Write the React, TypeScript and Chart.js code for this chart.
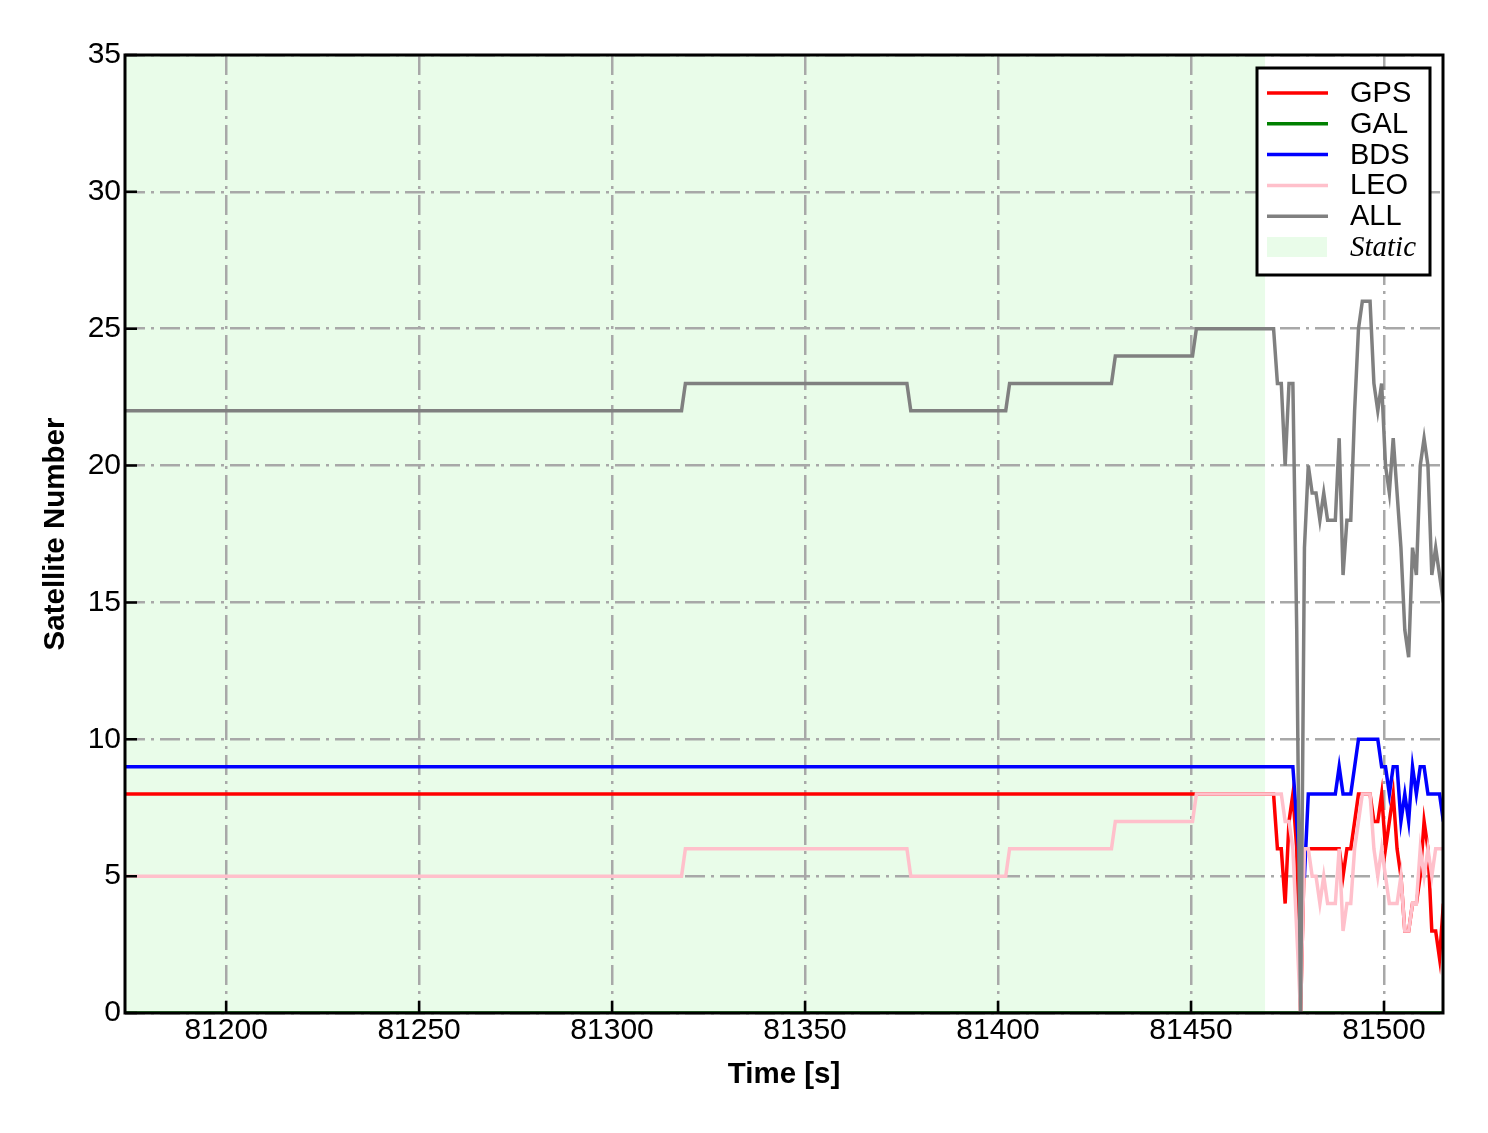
import { useEffect, useRef } from "react";
import { Chart, registerables } from "chart.js";

Chart.register(...registerables);

// ---------- data ----------
const seriesNames = ["GPS", "GAL", "BDS", "LEO", "ALL"];
const seriesColors = ["#ff0000", "#008000", "#0000ff", "#ffc0cb", "#808080"];
const staticLabel = "Static";
const staticColor = "rgb(233,252,233)";

const xTicks = [81200, 81250, 81300, 81350, 81400, 81450, 81500];
const yTicks = [0, 5, 10, 15, 20, 25, 30, 35];
const xMin = 81173.8;
const xMax = 81515.3;
const yMin = 0;
const yMax = 35;
const staticStart = 81173.8;
const staticEnd = 81469.2;

// flat (static) part: change points
const stepTimes = [81173.8, 81318.0, 81319.0, 81376.4, 81377.4, 81402.0, 81403.0, 81429.4, 81430.4, 81450.4, 81451.4];
const gpsSteps = [8, 8, 8, 8, 8, 8, 8, 8, 8, 8, 8];
const bdsSteps = [9, 9, 9, 9, 9, 9, 9, 9, 9, 9, 9];
const leoSteps = [5, 5, 6, 6, 5, 5, 6, 6, 7, 7, 8];
const allSteps = [22, 22, 23, 23, 22, 22, 23, 23, 24, 24, 25];

// kinematic part: one sample per second
const noisyTimes = [
  81471.4, 81472.4, 81473.4, 81474.4, 81475.4, 81476.4, 81477.4, 81478.4, 81479.4, 81480.4,
  81481.4, 81482.4, 81483.4, 81484.4, 81485.4, 81486.4, 81487.4, 81488.4, 81489.4, 81490.4,
  81491.4, 81492.4, 81493.4, 81494.4, 81495.4, 81496.4, 81497.4, 81498.4, 81499.4, 81500.4,
  81501.4, 81502.4, 81503.4, 81504.4, 81505.4, 81506.4, 81507.4, 81508.4, 81509.4, 81510.4,
  81511.4, 81512.4, 81513.4, 81514.4, 81515.4,
];
const gpsNoisy = [
  8, 6, 6, 4, 7, 8, 6, 0, 6, 6,
  6, 6, 6, 6, 6, 6, 6, 6, 5, 6,
  6, 7, 8, 8, 8, 8, 7, 7, 8, 6,
  7, 8, 6, 5, 3, 3, 4, 4, 5, 7,
  6, 3, 3, 2, 4,
];
const bdsNoisy = [
  9, 9, 9, 9, 9, 9, 7, 5, 5, 8,
  8, 8, 8, 8, 8, 8, 8, 9, 8, 8,
  8, 9, 10, 10, 10, 10, 10, 10, 9, 9,
  8, 9, 9, 7, 8, 7, 9, 8, 9, 9,
  8, 8, 8, 8, 7,
];
const leoNoisy = [
  8, 8, 8, 7, 7, 6, 3, 0, 6, 6,
  5, 5, 4, 5, 4, 4, 4, 6, 3, 4,
  4, 6, 7, 8, 8, 8, 6, 5, 6, 5,
  4, 4, 4, 5, 3, 3, 4, 4, 6, 5,
  6, 5, 6, 6, 6,
];
const allNoisy = [
  25, 23, 23, 20, 23, 23, 14, 0, 17, 20,
  19, 19, 18, 19, 18, 18, 18, 21, 16, 18,
  18, 22, 25, 26, 26, 26, 23, 22, 23, 20,
  19, 21, 19, 17, 14, 13, 17, 16, 20, 21,
  20, 16, 17, 16, 15,
];
const galTimes = [81173.8, 81515.4];
const galValues = [0, 0];

// ---------- helpers ----------
const FONT = "'Liberation Sans', Arial, sans-serif";

function toPoints(times: number[], values: number[]) {
  return times.map((t, i) => ({ x: t, y: values[i] }));
}

const seriesData = [
  toPoints(stepTimes.concat(noisyTimes), gpsSteps.concat(gpsNoisy)),
  toPoints(galTimes, galValues),
  toPoints(stepTimes.concat(noisyTimes), bdsSteps.concat(bdsNoisy)),
  toPoints(stepTimes.concat(noisyTimes), leoSteps.concat(leoNoisy)),
  toPoints(stepTimes.concat(noisyTimes), allSteps.concat(allNoisy)),
];

const decorPlugin = {
  id: "decor",
  beforeDraw(chart: any) {
    const { ctx, chartArea, scales } = chart;
    const x0 = scales.x.getPixelForValue(staticStart);
    const x1 = scales.x.getPixelForValue(staticEnd);
    ctx.save();
    ctx.fillStyle = staticColor;
    ctx.fillRect(x0, chartArea.top, x1 - x0, chartArea.bottom - chartArea.top);
    ctx.restore();
  },
  afterDraw(chart: any) {
    const { ctx, chartArea, scales } = chart;
    const { left, right, top, bottom } = chartArea;
    ctx.save();
    // inward ticks
    ctx.strokeStyle = "#000";
    ctx.lineWidth = 2.5;
    ctx.beginPath();
    for (const v of xTicks) {
      const px = scales.x.getPixelForValue(v);
      ctx.moveTo(px, bottom);
      ctx.lineTo(px, bottom - 12);
    }
    for (const v of yTicks) {
      const py = scales.y.getPixelForValue(v);
      ctx.moveTo(left, py);
      ctx.lineTo(left + 12, py);
    }
    ctx.stroke();
    // frame
    ctx.lineWidth = 3;
    ctx.strokeRect(left, top, right - left, bottom - top);

    // legend
    const bw = 173;
    const bh = 207;
    const bx = right - 13 - bw;
    const by = top + 13;
    ctx.fillStyle = "#fff";
    ctx.fillRect(bx, by, bw, bh);
    ctx.lineWidth = 3;
    ctx.strokeStyle = "#000";
    ctx.strokeRect(bx, by, bw, bh);
    const rowH = 30.8;
    ctx.textBaseline = "middle";
    ctx.textAlign = "left";
    for (let i = 0; i < seriesNames.length; i++) {
      const cy = by + 25 + i * rowH;
      ctx.strokeStyle = seriesColors[i];
      ctx.lineWidth = 3.5;
      ctx.beginPath();
      ctx.moveTo(bx + 10, cy);
      ctx.lineTo(bx + 71, cy);
      ctx.stroke();
      ctx.fillStyle = "#000";
      ctx.font = `29px ${FONT}`;
      ctx.fillText(seriesNames[i], bx + 93, cy + 1);
    }
    const sy = by + 25 + seriesNames.length * rowH;
    ctx.fillStyle = staticColor;
    ctx.fillRect(bx + 10, sy - 10, 60, 20);
    ctx.fillStyle = "#000";
    ctx.font = `italic 29px 'Liberation Serif', 'Times New Roman', serif`;
    ctx.fillText(staticLabel, bx + 93, sy + 1);
    ctx.restore();
  },
};

export default function App() {
  const ref = useRef<HTMLCanvasElement | null>(null);

  useEffect(() => {
    if (!ref.current) return;
    const gridColor = "#a8a8a8";
    const dash = [20, 6, 3, 6];
    const chart = new Chart(ref.current, {
      type: "line",
      data: {
        datasets: seriesNames.map((name, i) => ({
          label: name,
          data: seriesData[i],
          borderColor: seriesColors[i],
          backgroundColor: seriesColors[i],
          borderWidth: 3.5,
          pointRadius: 0,
          tension: 0,
          fill: false,
          order: seriesNames.length - i,
        })),
      },
      options: {
        responsive: false,
        animation: false,
        devicePixelRatio: 1,
        parsing: false as any,
        layout: { padding: { top: 55, right: 45, left: 0, bottom: 0 } },
        plugins: {
          legend: { display: false },
          tooltip: { enabled: false },
        },
        scales: {
          x: {
            type: "linear",
            min: xMin,
            max: xMax,
            afterBuildTicks: (s: any) => {
              s.ticks = xTicks.map((v) => ({ value: v }));
            },
            afterFit: (s: any) => {
              s.height = 120;
            },
            grid: { color: gridColor, lineWidth: 2.5, drawTicks: false },
            border: { display: false, dash },
            ticks: {
              callback: (v: any) => String(v),
              color: "#000",
              font: { family: FONT, size: 30 },
              padding: 0,
              maxRotation: 0,
              autoSkip: false,
            },
            title: {
              display: true,
              text: "Time [s]",
              color: "#000",
              font: { family: FONT, size: 29.5, weight: "bold" },
              padding: { top: 0, bottom: 40 },
            },
          },
          y: {
            type: "linear",
            min: yMin,
            max: yMax,
            afterBuildTicks: (s: any) => {
              s.ticks = yTicks.map((v) => ({ value: v }));
            },
            afterFit: (s: any) => {
              s.width = 125;
            },
            grid: { color: gridColor, lineWidth: 2.5, drawTicks: false },
            border: { display: false, dash },
            ticks: {
              callback: (v: any) => String(v),
              color: "#000",
              font: { family: FONT, size: 30 },
              padding: 4,
              autoSkip: false,
            },
            title: {
              display: true,
              text: "Satellite Number",
              color: "#000",
              font: { family: FONT, size: 29.5, weight: "bold" },
              padding: { top: 38, bottom: 0 },
            },
          },
        },
      },
      plugins: [decorPlugin],
    });
    return () => chart.destroy();
  }, []);

  return (
    <div style={{ position: "absolute", left: 0, top: 0, width: 1488, height: 1133, background: "#fff" }}>
      <canvas ref={ref} width={1488} height={1133} style={{ width: 1488, height: 1133, display: "block" }} />
    </div>
  );
}
